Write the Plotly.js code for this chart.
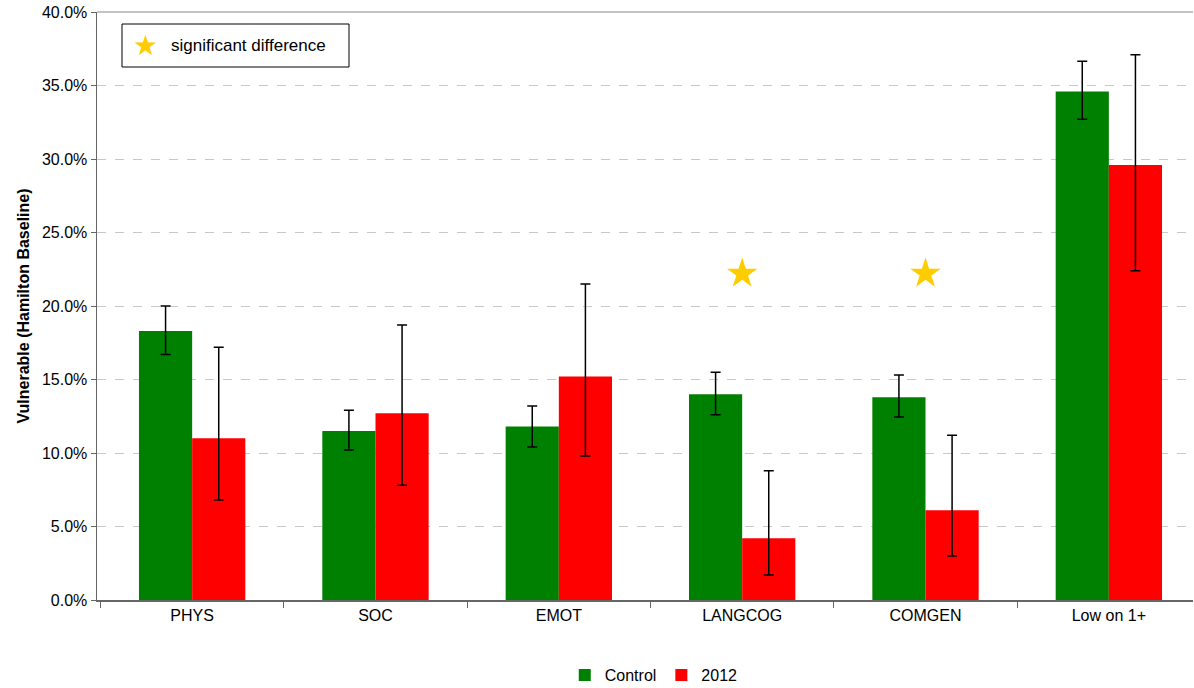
<!DOCTYPE html>
<html>
<head>
<meta charset="utf-8">
<script src="https://cdn.plot.ly/plotly-3.0.1.min.js"></script>
<style>html,body{margin:0;padding:0;background:#fff;}#chart{width:1194px;height:688px;}</style>
</head>
<body>
<div id="chart"></div>
<script>
var categories = ["PHYS", "SOC", "EMOT", "LANGCOG", "COMGEN", "Low on 1+"];
var controlValues = [18.3, 11.5, 11.8, 14.0, 13.8, 34.6];
var controlErrUpper = [20.0, 12.9, 13.2, 15.5, 15.3, 36.65];
var controlErrLower = [16.7, 10.2, 10.4, 12.6, 12.45, 32.7];
var y2012Values = [11.0, 12.7, 15.2, 4.2, 6.1, 29.6];
var y2012ErrUpper = [17.2, 18.7, 21.5, 8.8, 11.2, 37.1];
var y2012ErrLower = [6.8, 7.8, 9.8, 1.7, 3.0, 22.4];
var significantCategories = ["LANGCOG", "COMGEN"];
var significantY = [22.2, 22.2];
var yTickVals = [0, 5, 10, 15, 20, 25, 30, 35, 40];
var yTickText = ["0.0%", "5.0%", "10.0%", "15.0%", "20.0%", "25.0%", "30.0%", "35.0%", "40.0%"];

function diff(a, b, sign) { return a.map(function (v, i) { return sign * (v - b[i]); }); }

var font = "Liberation Sans, Arial, sans-serif";
var W = 1194, H = 688, L = 97, R = 1, T = 12, B = 88;
var PW = W - L - R, PH = H - T - B;

var traces = [
  {
    type: "bar", name: "Control", x: categories, y: controlValues,
    marker: {color: "#008000"},
    error_y: {type: "data", symmetric: false,
      array: diff(controlErrUpper, controlValues, 1),
      arrayminus: diff(controlErrLower, controlValues, -1),
      color: "#000", thickness: 1.5, width: 5}
  },
  {
    type: "bar", name: "2012", x: categories, y: y2012Values,
    marker: {color: "#ff0000"},
    error_y: {type: "data", symmetric: false,
      array: diff(y2012ErrUpper, y2012Values, 1),
      arrayminus: diff(y2012ErrLower, y2012Values, -1),
      color: "#000", thickness: 1.5, width: 5}
  },
  {
    type: "scatter", mode: "markers", name: "significant difference",
    x: significantCategories, y: significantY, showlegend: false,
    marker: {symbol: "star", size: 23, color: "#ffcc00", line: {width: 0}},
    hoverinfo: "skip"
  }
];

var layout = {
  width: W, height: H,
  margin: {l: L, r: R, t: T, b: B, autoexpand: false},
  paper_bgcolor: "#fff", plot_bgcolor: "#fff",
  font: {family: font, size: 16, color: "#000"},
  barmode: "group", bargap: 0.42, bargroupgap: 0,
  showlegend: true,
  legend: {orientation: "h", x: 0.508, xanchor: "center", yref: "container", y: (H - 675) / H, yanchor: "middle",
    font: {family: font, size: 16, color: "#000"}, itemwidth: 30, traceorder: "normal", tracegroupgap: 0},
  xaxis: {
    type: "category", range: [-0.519, 5.459], tickson: "boundaries", ticks: "outside", ticklen: 6, tickcolor: "#666",
    showline: true, linecolor: "#666", linewidth: 1.5, showgrid: false,
    tickfont: {family: font, size: 16, color: "#000"}, fixedrange: true
  },
  yaxis: {
    range: [0, 40], tickmode: "array", tickvals: yTickVals, ticktext: yTickText,
    ticks: "outside", ticklen: 5, tickcolor: "#666",
    showline: true, linecolor: "#666", linewidth: 1.5,
    showgrid: true, gridcolor: "#c8c8c8", griddash: "dash", gridwidth: 1,
    zeroline: false,
    tickfont: {family: font, size: 16, color: "#000"},
    title: {text: "<b>Vulnerable (Hamilton Baseline)</b>", font: {family: font, size: 16, color: "#000"}, standoff: 8},
    fixedrange: true
  },
  shapes: [
    {type: "line", xref: "paper", yref: "paper", x0: 0, x1: 1, y0: 1, y1: 1, line: {color: "#888", width: 1}},
    {type: "rect", xref: "paper", yref: "paper",
      x0: (122 - L) / PW, x1: (349 - L) / PW,
      y0: (H - B - 67) / PH, y1: (H - B - 24) / PH,
      line: {color: "#000", width: 1}, fillcolor: "#fff"}
  ],
  annotations: [
    {xref: "paper", yref: "paper", x: (145 - L) / PW, y: (H - B - 46) / PH,
      text: "★", showarrow: false, xanchor: "center", yanchor: "middle",
      font: {family: "DejaVu Sans", size: 28, color: "#ffcc00"}},
    {xref: "paper", yref: "paper", x: (169 - L) / PW, y: (H - B - 46) / PH,
      text: "significant difference", showarrow: false, xanchor: "left", yanchor: "middle",
      font: {family: font, size: 17, color: "#000"}}
  ]
};

Plotly.newPlot("chart", traces, layout, {displayModeBar: false, staticPlot: true});
</script>
</body>
</html>
